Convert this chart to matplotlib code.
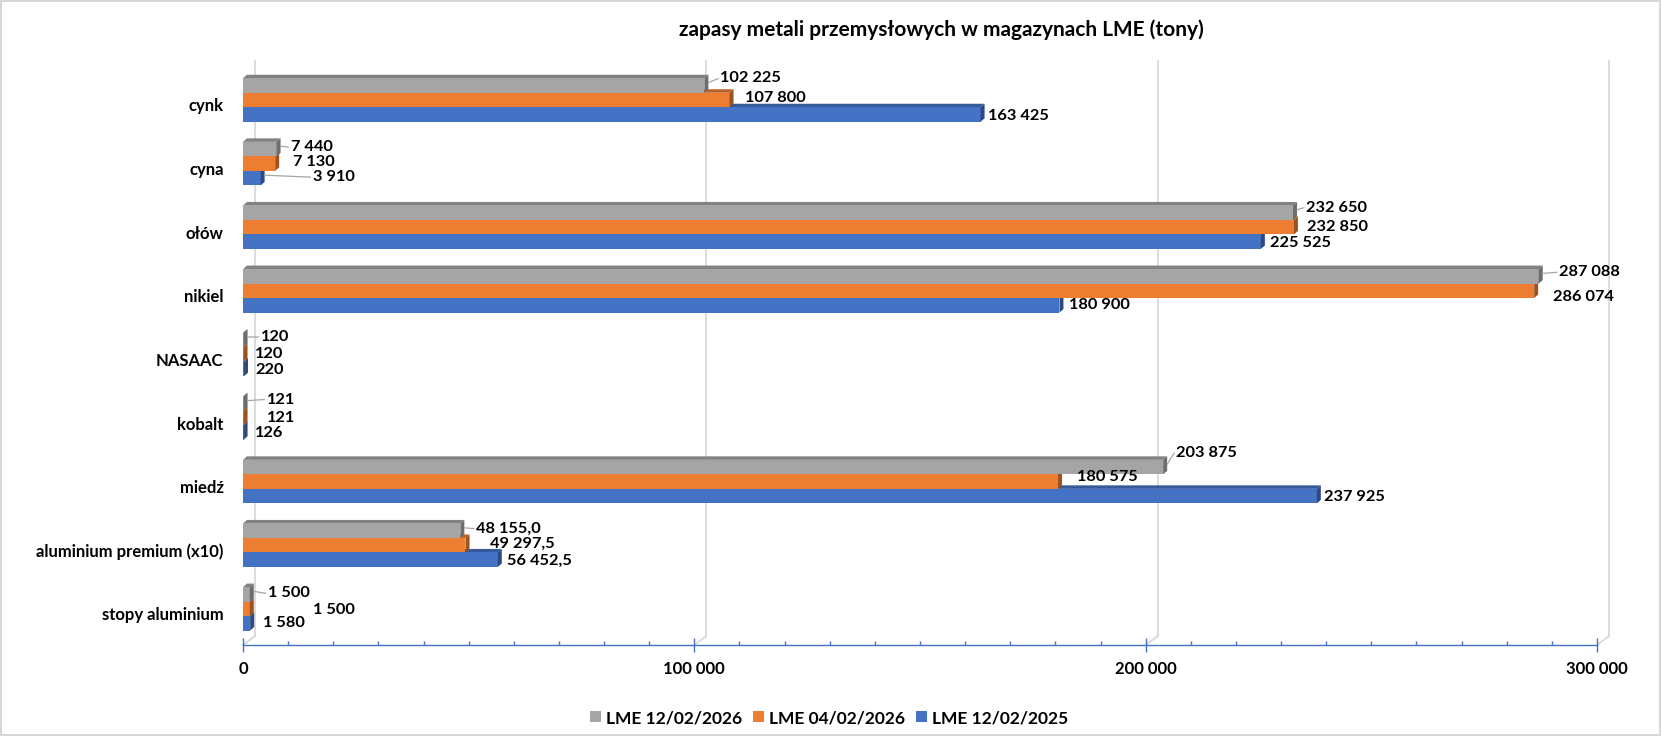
import matplotlib
matplotlib.use('Agg')
import matplotlib.pyplot as plt
from matplotlib.patches import Polygon, Patch, Rectangle
from matplotlib.ticker import FuncFormatter, MultipleLocator, FixedLocator
from matplotlib import colors as mcolors
import matplotlib.transforms as mtransforms


# ── data (tonnes) ────────────────────────────────────────────────────────────
metals = ['cynk', 'cyna', 'ołów', 'nikiel', 'NASAAC', 'kobalt', 'miedź',
          'aluminium premium (x10)', 'stopy aluminium']
lme_2026_02_12 = [102225, 7440, 232650, 287088, 120, 121, 203875, 48155.0, 1500]
lme_2026_02_04 = [107800, 7130, 232850, 286074, 120, 121, 180575, 49297.5, 1500]
lme_2025_02_12 = [163425, 3910, 225525, 180900, 220, 126, 237925, 56452.5, 1580]
label_decimals = [0, 0, 0, 0, 0, 0, 0, 1, 0]

series_names = ['LME 12/02/2026', 'LME 04/02/2026', 'LME 12/02/2025']
series_values = [lme_2026_02_12, lme_2026_02_04, lme_2025_02_12]
series_colors = ['#A5A5A5', '#ED7D31', '#4472C4']

x_ticks = [0, 100000, 200000, 300000]

# data label nudges in pixels: (dx from bar end, dy downwards), leader line?
label_nudge = [
    [(16, -7, 1), (14, -2, 1), (13, -5, 1), (20, -4, 1), (17, -3, 1),
     (23, -4, 1), (13, -14, 1), (16, -2, 1), (18, -1, 1)],
    [(15, -2, 0), (18, -2, 0), (13, 0, 0), (19, 6, 0), (11, 0, 0),
     (23, 0, 0), (19, -5, 0), (25, -1, 0), (63, 1, 0)],
    [(7, 1, 0), (52, -1, 1), (9, 1, 0), (10, 0, 0), (11, 1, 0),
     (11, 0, 0), (7, 1, 0), (9, 1, 0), (13, 0, 0)],
]

FONT = 'Lato'
W, H, DPI = 1661, 736, 100

# geometry in pixels (Excel 3-D look)
AX_L, AX_R, AX_T, AX_B = 243, 1597, 70, 645
ROW0, ROW_STEP = 100, 63.6      # pixel row of first category, spacing
BAR_PX = 14.5
DEPTH_X, DEPTH_Y = 4, 3.5       # bar depth
WALL_X, WALL_Y = 12, 9          # back wall offset
XMAX = 300000
AXIS_BLUE = '#4472C4'
GRID = '#D9D9D9'


def fmt_pl(v, dec=0):
    s = f'{v:,.{dec}f}'
    return s.replace(',', ' ').replace('.', ',')


def shade(c, f):
    r, g, b = mcolors.to_rgb(c)
    return (r * f, g * f, b * f)


fig = plt.figure(figsize=(W / DPI, H / DPI), dpi=DPI)
ax = fig.add_axes([AX_L / W, 1 - AX_B / H, (AX_R - AX_L) / W, (AX_B - AX_T) / H])

ax_w, ax_h = AX_R - AX_L, AX_B - AX_T
ax.set_xlim(0, XMAX)
ax.set_ylim((AX_B - ROW0) / ROW_STEP, (AX_T - ROW0) / ROW_STEP)
px_x = XMAX / ax_w          # data units per pixel, x
px_y = 1 / ROW_STEP         # data units per pixel, y

bh = BAR_PX * px_y
ddx, ddy = DEPTH_X * px_x, DEPTH_Y * px_y

# back wall + gridlines
blend = mtransforms.blended_transform_factory(ax.transData, ax.transAxes)
wx, wy = WALL_X * px_x, WALL_Y / ax_h
for t in x_ticks:
    ax.plot([t + wx, t + wx], [wy, 1 + wy], color=GRID, lw=1.3,
            transform=blend, clip_on=False, zorder=0)
    ax.plot([t, t + wx], [0, wy], color=GRID, lw=1.3,
            transform=blend, clip_on=False, zorder=0)

# bars: draw bottom series first so upper bars cover the top faces
y_pos = list(range(len(metals)))
for i in reversed(range(3)):
    offs = (i - 1) * bh
    ys = [y + offs for y in y_pos]
    base = 3 + (2 - i) * 2
    ax.barh(ys, series_values[i], height=bh, color=series_colors[i],
            lw=0, zorder=base + 1)
    top_c, side_c = shade(series_colors[i], 0.78), shade(series_colors[i], 0.66)
    for y, v in zip(ys, series_values[i]):
        yt, yb = y - bh / 2, y + bh / 2
        ax.add_patch(Polygon([(0, yt), (v, yt), (v + ddx, yt - ddy), (ddx, yt - ddy)],
                             closed=True, fc=top_c, ec='none', zorder=base))
        ax.add_patch(Polygon([(v, yt), (v + ddx, yt - ddy), (v + ddx, yb - ddy), (v, yb)],
                             closed=True, fc=side_c, ec='none', zorder=base + 1))

# data labels
for i in range(3):
    offs = (i - 1) * bh
    for k, v in enumerate(series_values[i]):
        y = y_pos[k] + offs
        dx, dy, leader = label_nudge[i][k]
        ax.annotate(fmt_pl(v, label_decimals[k]), xy=(v, y), xytext=(dx, -dy),
                    textcoords='offset pixels', ha='left', va='center',
                    fontfamily=FONT, fontweight='bold', fontsize=11.8,
                    color='black', zorder=20, annotation_clip=False)
        if leader:
            sx, sy = DEPTH_X, BAR_PX * 0.2
            ax.annotate('', xy=(v + ddx, y - sy * px_y),
                        xytext=(dx - 2 - sx, -dy - sy),
                        textcoords='offset pixels',
                        arrowprops=dict(arrowstyle='-', color='#A6A6A6', lw=0.9,
                                        shrinkA=0, shrinkB=0),
                        zorder=15, annotation_clip=False)

# axes styling
for s in ['top', 'right', 'left']:
    ax.spines[s].set_visible(False)
ax.spines['bottom'].set_color(AXIS_BLUE)
ax.spines['bottom'].set_linewidth(1.0)
ax.xaxis.set_major_locator(FixedLocator(x_ticks))
ax.xaxis.set_minor_locator(MultipleLocator(10000))
ax.xaxis.set_major_formatter(FuncFormatter(lambda v, p: fmt_pl(v)))
ax.tick_params(axis='x', which='major', direction='inout', length=9.5,
               width=1, color=AXIS_BLUE, pad=7)
ax.tick_params(axis='x', which='minor', direction='in', length=3.2,
               width=1, color=AXIS_BLUE)
for lab in ax.get_xticklabels():
    lab.set_fontfamily(FONT)
    lab.set_fontweight('bold')
    lab.set_fontsize(12)

ax.set_yticks(y_pos)
ax.set_yticklabels(metals, fontfamily=FONT, fontweight='bold', fontsize=12)
ax.tick_params(axis='y', length=0, pad=14)
shift_down = mtransforms.ScaledTranslation(0, -5 / DPI, fig.dpi_scale_trans)
for lab in ax.get_yticklabels():
    lab.set_transform(lab.get_transform() + shift_down)
ax.set_facecolor('none')

# title, legend, border
fig.text(941 / W, 1 - 30 / H, 'zapasy metali przemysłowych w magazynach LME (tony)',
         ha='center', va='center', fontfamily=FONT, fontweight='bold', fontsize=15)

handles = [Patch(facecolor=c, edgecolor='none') for c in series_colors]
fig.legend(handles, series_names, loc='center', bbox_to_anchor=(829 / W, 1 - 718 / H),
           ncol=3, frameon=False, handlelength=0.6, handleheight=0.6,
           handletextpad=0.3, columnspacing=0.65,
           prop={'family': FONT, 'weight': 'bold', 'size': 12.5})

fig.patches.append(Rectangle((0.0008, 0.0015), 0.9984, 0.997, transform=fig.transFigure,
                             fill=False, ec='#D0D0D0', lw=1.2))

fig.savefig('out.png', dpi=DPI)
